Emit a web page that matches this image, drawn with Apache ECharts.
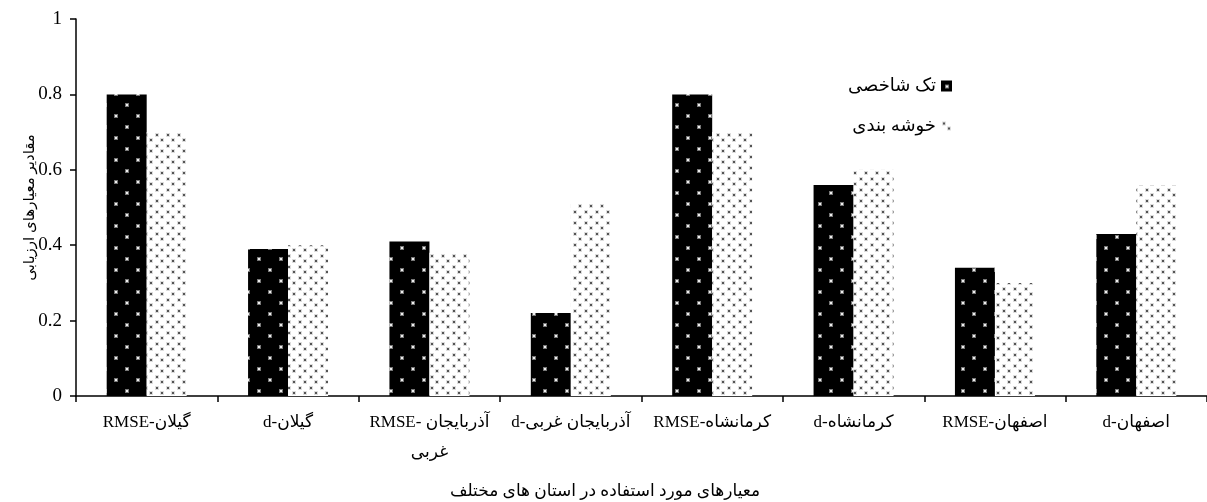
<!DOCTYPE html>
<html>
<head>
<meta charset="utf-8">
<script src="https://cdn.jsdelivr.net/npm/echarts@6/dist/echarts.min.js"></script>
<style>
  html, body { margin: 0; padding: 0; background: #fff; }
  #chart { width: 1207px; height: 502px; }
</style>
</head>
<body>
<div id="chart"></div>
<script>
// داده‌ها
var categories = ['RMSE-گیلان', 'd-گیلان', 'RMSE- آذربایجان\nغربی', 'd-آذربایجان غربی', 'RMSE-کرمانشاه', 'd-کرمانشاه', 'RMSE-اصفهان', 'd-اصفهان']
var singleIndex = [0.80, 0.39, 0.41, 0.22, 0.80, 0.56, 0.34, 0.43]
var clustering = [0.70, 0.40, 0.38, 0.51, 0.70, 0.60, 0.30, 0.56]
var seriesNames = ['تک شاخصی', 'خوشه بندی']
var yTicks = [0, 0.2, 0.4, 0.6, 0.8, 1]

var serif = "'Liberation Serif', 'DejaVu Serif', 'DejaVu Sans', serif"

// black fill with sparse white dots
function blackDots () {
  var c = document.createElement('canvas')
  c.width = 22
  c.height = 22
  var ctx = c.getContext('2d')
  ctx.fillStyle = '#000'
  ctx.fillRect(0, 0, 22, 22)
  ctx.fillStyle = '#777'
  ctx.fillRect(4, 4, 4, 4)
  ctx.fillRect(15, 15, 4, 4)
  ctx.fillStyle = '#eee'
  ctx.fillRect(5, 5, 2, 2)
  ctx.fillRect(16, 16, 2, 2)
  return c
}
// white fill with dense grey dots
function greyDots () {
  var c = document.createElement('canvas')
  c.width = 11
  c.height = 11
  var ctx = c.getContext('2d')
  ctx.fillStyle = '#fff'
  ctx.fillRect(0, 0, 11, 11)
  ctx.fillStyle = '#ddd'
  ctx.fillRect(1, 1, 4, 4)
  ctx.fillRect(6, 6, 4, 4)
  ctx.fillStyle = '#555'
  ctx.fillRect(2, 2, 2, 2)
  ctx.fillRect(7, 7, 2, 2)
  return c
}

var chart = echarts.init(document.getElementById('chart'), null, { renderer: 'canvas' })
chart.setOption({
  animation: false,
  title: {
    text: 'معیارهای مورد استفاده در استان های مختلف',
    left: 600,
    top: 478,
    textAlign: 'center',
    textStyle: { fontSize: 17, fontWeight: 'normal', color: '#000', fontFamily: serif }
  },
  legend: {
    orient: 'vertical',
    right: 250,
    top: 72,
    align: 'right',
    icon: 'rect',
    itemWidth: 11,
    itemHeight: 11,
    itemGap: 22,
    data: seriesNames,
    textStyle: { fontSize: 18, color: '#000', fontFamily: serif }
  },
  grid: {
    left: 76,
    top: 19,
    width: 1135,
    height: 377
  },
  xAxis: {
    type: 'category',
    data: categories,
    axisLine: { lineStyle: { color: '#000', width: 1.5 } },
    axisTick: { show: true, length: 6, lineStyle: { color: '#000', width: 1.5 } },
    axisLabel: {
      interval: 0,
      margin: 12,
      fontSize: 17,
      lineHeight: 30,
      color: '#000',
      fontFamily: serif
    }
  },
  yAxis: {
    type: 'value',
    min: yTicks[0],
    max: yTicks[yTicks.length - 1],
    interval: 0.2,
    name: 'مقادیر معیارهای ارزیابی',
    nameLocation: 'middle',
    nameRotate: 90,
    nameGap: 38,
    nameMoveOverlap: false,
    nameTextStyle: { fontSize: 15, color: '#000', fontFamily: serif },
    splitLine: { show: false },
    axisLine: { show: true, lineStyle: { color: '#000', width: 1.5 } },
    axisTick: { show: true, length: 6, lineStyle: { color: '#000', width: 1.5 } },
    axisLabel: { margin: 14, fontSize: 19, color: '#000', fontFamily: serif }
  },
  series: [
    {
      name: seriesNames[0],
      type: 'bar',
      data: singleIndex,
      barWidth: 40,
      barGap: '0%',
      itemStyle: { color: { image: blackDots(), repeat: 'repeat' } }
    },
    {
      name: seriesNames[1],
      type: 'bar',
      data: clustering,
      barWidth: 40,
      barGap: '0%',
      itemStyle: { color: { image: greyDots(), repeat: 'repeat' } }
    }
  ]
})
</script>
</body>
</html>
